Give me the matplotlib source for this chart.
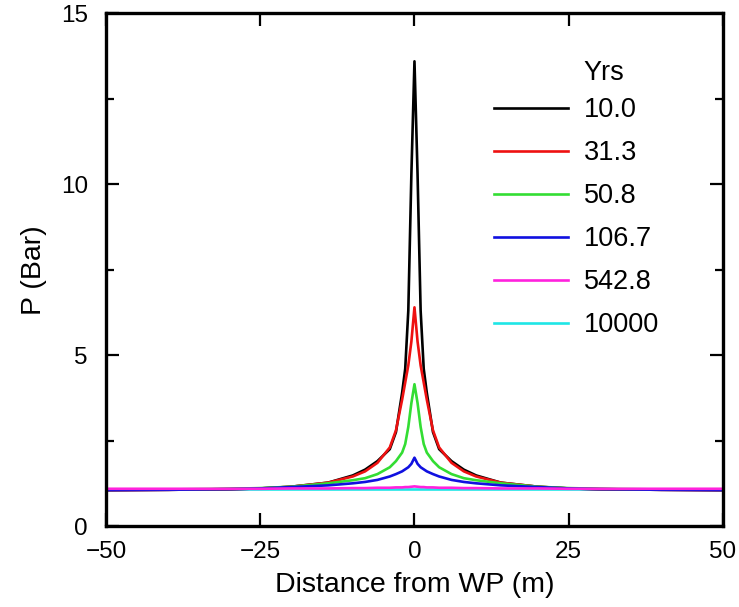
import matplotlib
matplotlib.use("Agg")
import matplotlib.pyplot as plt
from matplotlib.ticker import MultipleLocator

plt.rcParams['font.family'] = ['Liberation Sans', 'DejaVu Sans']

# distance from WP (m), one side; the profiles are symmetric about 0
x_half = [0, 0.5, 1, 1.5, 2, 3, 4, 6, 8, 10, 14, 20, 25, 30, 40, 50]

p_10_0 = [13.6, 10.3, 6.3, 4.6, 3.9, 2.75, 2.25, 1.9, 1.65, 1.48, 1.27, 1.15, 1.1, 1.08, 1.06, 1.05]
p_31_3 = [6.4, 5.4, 4.7, 4.2, 3.7, 2.8, 2.3, 1.85, 1.6, 1.45, 1.27, 1.15, 1.1, 1.08, 1.06, 1.05]
p_50_8 = [4.15, 3.6, 2.9, 2.4, 2.15, 1.9, 1.72, 1.52, 1.4, 1.34, 1.25, 1.15, 1.11, 1.09, 1.07, 1.06]
p_106_7 = [2.0, 1.82, 1.72, 1.66, 1.6, 1.52, 1.45, 1.35, 1.29, 1.25, 1.19, 1.14, 1.1, 1.08, 1.06, 1.05]
p_542_8 = [1.16, 1.15, 1.14, 1.14, 1.13, 1.13, 1.12, 1.12, 1.11, 1.11, 1.1, 1.1, 1.09, 1.09, 1.09, 1.09]
p_10000 = [1.08, 1.08, 1.08, 1.08, 1.08, 1.08, 1.08, 1.08, 1.08, 1.08, 1.08, 1.08, 1.08, 1.08, 1.08, 1.08]

x = [-v for v in x_half[:0:-1]] + x_half


def mirror(h):
    return h[:0:-1] + h


series = [
    ("10000", "#1ee6e6", p_10000),
    ("10.0", "black", p_10_0),
    ("31.3", "#ee1111", p_31_3),
    ("50.8", "#33dd33", p_50_8),
    ("106.7", "#1010e0", p_106_7),
    ("542.8", "#ff22dd", p_542_8),
]
legend_order = ["10.0", "31.3", "50.8", "106.7", "542.8", "10000"]

fig = plt.figure(figsize=(7.39, 6.07), dpi=100)
ax = fig.add_axes([0.1434, 0.1334, 0.9783 - 0.1434, 0.9778 - 0.1334])

handles = {}
for lab, col, ys in series:
    h, = ax.plot(x, mirror(ys), color=col, lw=1.9, label=lab)
    handles[lab] = h

ax.set_xlim(-50, 50)
ax.set_ylim(0, 15)
ax.set_xticks([-50, -25, 0, 25, 50])
ax.set_yticks([0, 5, 10, 15])
ax.yaxis.set_minor_locator(MultipleLocator(2.5))
ax.tick_params(which='major', direction='in', length=9.5, width=1.6, top=True, right=True,
               labelsize=17.5)
ax.tick_params(axis='y', which='major', pad=13)
ax.tick_params(axis='x', which='major', pad=11)
ax.tick_params(axis='y', which='minor', direction='in', length=6, width=1.6, left=True, right=True)
for s in ax.spines.values():
    s.set_linewidth(2.4)
ax.set_xlabel("Distance from WP (m)", fontsize=20.5, labelpad=6)
ax.set_ylabel("P (Bar)", fontsize=20.5, labelpad=10)

leg = ax.legend([handles[l] for l in legend_order], legend_order,
                loc='upper left', bbox_to_anchor=(0.593, 0.879), frameon=False,
                fontsize=19.5, handlelength=2.75,
                handletextpad=0.58, labelspacing=0.63, borderpad=0.3)
for line in leg.get_lines():
    line.set_linewidth(1.9)

fig.text(583 / 739, 1 - 73 / 607, "Yrs", fontsize=19.5, ha='left', va='center')

fig.savefig("out.png", dpi=100)
